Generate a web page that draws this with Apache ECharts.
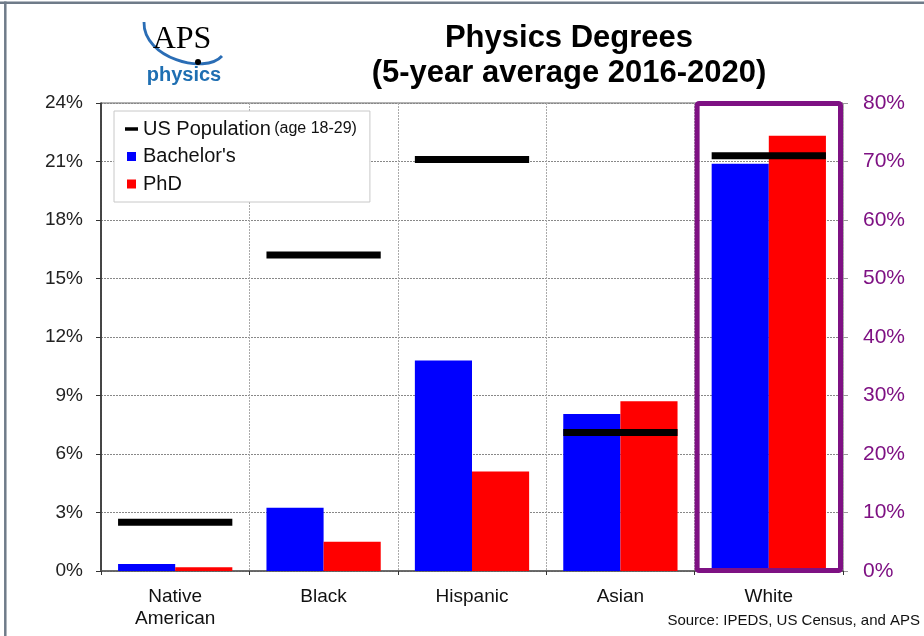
<!DOCTYPE html>
<html><head><meta charset="utf-8">
<script src="https://cdn.jsdelivr.net/npm/echarts@6/dist/echarts.min.js"></script>
<style>html,body{margin:0;padding:0;background:#fff}#c{width:924px;height:636px}</style>
</head><body><div id="c"></div><script>
// ---- data ----
const categories = ['Native\nAmerican', 'Black', 'Hispanic', 'Asian', 'White'];
const bachelorsPct = [0.36, 3.25, 10.8, 8.05, 69.6];
const phdPct = [0.19, 1.5, 5.1, 8.7, 74.4];
const populationPct = [2.5, 16.2, 21.1, 7.1, 71.0];
const rightAxisCategory = 'White';       // plotted against the right (purple) axis
const leftAxisRange = [0, 24, 3];        // min, max, interval (%)
const rightAxisRange = [0, 80, 10];      // min, max, interval (%)
const titleLines = ['Physics Degrees', '(5-year average 2016-2020)'];
const sourceText = 'Source: IPEDS, US Census, and APS';

// ---- helpers ----
const FONT = '"Liberation Sans", Arial, Helvetica, sans-serif';
const PURPLE = '#7e1183';
const isRight = i => categories[i] === rightAxisCategory;
const leftOf = arr => arr.map((v, i) => isRight(i) ? '-' : v);
const rightOf = arr => arr.map((v, i) => isRight(i) ? v : '-');
const pairs = (arr, right) => arr.map((v, i) => [i, v]).filter(p => isRight(p[0]) === right);

function popItem(params, api) {
  const p = api.coord([api.value(0), api.value(1)]);
  const w = api.size([1, 0])[0] * 0.77;
  return { type: 'rect', shape: { x: p[0] - w / 2, y: p[1] - 3.5, width: w, height: 7 }, style: { fill: '#000' } };
}

const chart = echarts.init(document.getElementById('c'), null, { renderer: 'canvas' });
const gridRect = { left: 101, top: 103, width: 742, height: 468 };

const option = {
  backgroundColor: '#fff',
  animation: false,
  textStyle: { fontFamily: FONT },
  grid: Object.assign({ show: true, borderColor: '#666', borderWidth: 1, backgroundColor: 'transparent' }, gridRect),
  legend: {
    left: 114, top: 111, orient: 'vertical',
    padding: [8, 13, 8, 11], itemGap: 7.5, itemWidth: 13, itemHeight: 9,
    backgroundColor: '#fff', borderColor: '#c8c8c8', borderWidth: 1,
    data: [
      { name: 'US Population', icon: 'path://M0,0h13v3.5h-13z' },
      { name: "Bachelor's", icon: 'path://M0,0h9v9h-9z' },
      { name: 'PhD', icon: 'path://M0,0h9v9h-9z' }
    ],
    formatter: n => n === 'US Population' ? '{a|US Population} {b|(age 18-29)}' : '{a|' + n + '}',
    textStyle: {
      color: '#111',
      rich: { a: { fontSize: 20, lineHeight: 20, fontFamily: FONT, color: '#111' }, b: { fontSize: 16, lineHeight: 20, fontFamily: FONT, color: '#111' } }
    }
  },
  xAxis: [
    {
      type: 'category', data: categories, gridIndex: 0,
      axisLine: { lineStyle: { color: '#555', width: 1.5 } },
      axisTick: { show: true, length: 4, lineStyle: { color: '#333' } },
      axisLabel: { fontSize: 19, color: '#111', lineHeight: 22, margin: 15, fontFamily: FONT },
      splitLine: { show: true, lineStyle: { color: '#aaa', type: [2, 1], width: 1 } }
    },
    { type: 'category', data: categories, gridIndex: 0, show: false }
  ],
  yAxis: [
    {
      type: 'value', min: leftAxisRange[0], max: leftAxisRange[1], interval: leftAxisRange[2],
      axisLine: { show: true, lineStyle: { color: '#222', width: 1.5 } },
      axisTick: { show: true, length: 5, lineStyle: { color: '#333' } },
      axisLabel: { formatter: '{value}%', fontSize: 19, color: '#222', margin: 18, fontFamily: FONT },
      splitLine: { show: true, lineStyle: { color: '#888', type: [2, 1], width: 1 } }
    },
    {
      type: 'value', position: 'right', min: rightAxisRange[0], max: rightAxisRange[1], interval: rightAxisRange[2],
      axisLine: { show: false },
      axisTick: { show: true, length: 5, lineStyle: { color: '#999' } },
      axisLabel: { formatter: '{value}%', fontSize: 21, color: PURPLE, margin: 20, fontFamily: FONT },
      splitLine: { show: false }
    }
  ],
  series: [
    { name: "Bachelor's", type: 'bar', xAxisIndex: 0, yAxisIndex: 0, data: leftOf(bachelorsPct), itemStyle: { color: '#0000ff' }, barGap: '0%', barCategoryGap: '23%', z: 3 },
    { name: 'PhD', type: 'bar', xAxisIndex: 0, yAxisIndex: 0, data: leftOf(phdPct), itemStyle: { color: '#ff0000' }, barGap: '0%', barCategoryGap: '23%', z: 3 },
    { name: "Bachelor's", type: 'bar', xAxisIndex: 1, yAxisIndex: 1, data: rightOf(bachelorsPct), itemStyle: { color: '#0000ff' }, barGap: '0%', barCategoryGap: '23%', z: 3 },
    { name: 'PhD', type: 'bar', xAxisIndex: 1, yAxisIndex: 1, data: rightOf(phdPct), itemStyle: { color: '#ff0000' }, barGap: '0%', barCategoryGap: '23%', z: 3 },
    { name: 'US Population', type: 'custom', xAxisIndex: 0, yAxisIndex: 0, data: pairs(populationPct, false), renderItem: popItem, itemStyle: { color: '#000' }, z: 5, encode: { x: 0, y: 1 } },
    { name: 'US Population', type: 'custom', xAxisIndex: 1, yAxisIndex: 1, data: pairs(populationPct, true), renderItem: popItem, itemStyle: { color: '#000' }, z: 5, encode: { x: 0, y: 1 } }
  ],
  graphic: { elements: [
    { id: 'topBorder', type: 'line', shape: { x1: 0, y1: 2.8, x2: 924, y2: 2.8 }, style: { stroke: '#6f7b89', lineWidth: 2.5 }, z: 100 },
    { id: 'leftBorder', type: 'line', shape: { x1: 5.3, y1: 1.6, x2: 5.3, y2: 636 }, style: { stroke: '#6f7b89', lineWidth: 2.5 }, z: 100 },
    { id: 'title', type: 'text', x: 569, y: 21, style: { text: titleLines.join('\n'), font: 'bold 31px ' + FONT, fill: '#000', align: 'center', verticalAlign: 'top', lineHeight: 35 } },
    { id: 'source', type: 'text', x: 920, y: 621, style: { text: sourceText, font: '15px ' + FONT, fill: '#111', align: 'right', verticalAlign: 'middle' } },
    { id: 'swoosh', type: 'bezierCurve', shape: { x1: 144, y1: 22, cpx1: 143, cpy1: 58, cpx2: 205, cpy2: 75, x2: 222, y2: 56 }, style: { stroke: '#2a6db5', lineWidth: 2.8, fill: null } },
    { id: 'aps', type: 'text', x: 182, y: 40, style: { text: 'APS', font: '32px "Liberation Serif", "Times New Roman", serif', fill: '#000', align: 'center', verticalAlign: 'middle' } },
    { id: 'dot', type: 'circle', shape: { cx: 198, cy: 62, r: 3 }, style: { fill: '#000' }, z: 10 },
    { id: 'physics', type: 'text', x: 184, y: 75, style: { text: 'physics', font: 'bold 20px ' + FONT, fill: '#1f6fb2', align: 'center', verticalAlign: 'middle' } }
  ] }
};
chart.setOption(option);

// purple highlight frame around the right-axis category, positioned from the axis scales
const last = categories.length - 1;
const cx = chart.convertToPixel({ xAxisIndex: 1 }, last);
const bw = cx - chart.convertToPixel({ xAxisIndex: 1 }, last - 1);
const yTop = chart.convertToPixel({ yAxisIndex: 1 }, rightAxisRange[1]);
const yBot = chart.convertToPixel({ yAxisIndex: 1 }, rightAxisRange[0]);
chart.setOption({ graphic: { elements: [
  { id: 'frame', type: 'rect', shape: { x: cx - bw / 2 + 2.5, y: yTop + 0.5, width: bw - 5, height: yBot - yTop - 1, r: 2 }, style: { stroke: PURPLE, lineWidth: 5, fill: null }, z: 20 }
] } });
</script></body></html>
